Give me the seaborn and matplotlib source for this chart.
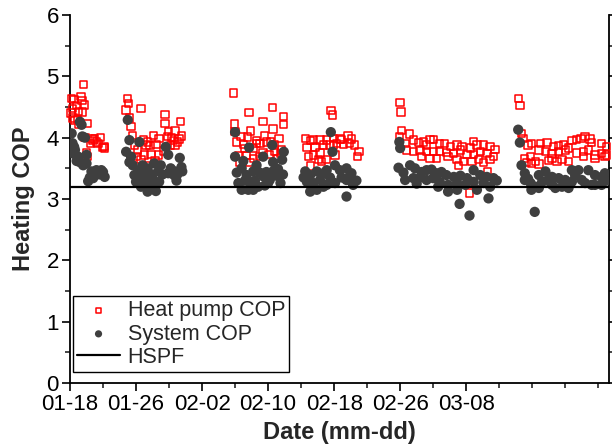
import numpy as np
import pandas as pd
import matplotlib
matplotlib.use("Agg")
import matplotlib.pyplot as plt
import seaborn as sns
from matplotlib.ticker import MultipleLocator

# ---- data (x = days since 01-18) ----
hp_day_1 = [0.1, 0.2, 0.3, 0.35, 0.5, 0.6, 0.8, 1.0, 1.1, 1.35, 1.45, 1.6, 1.75, 2.05, 1.8, 2.0, 2.1, 2.5, 2.65, 2.8, 3.0, 3.2, 3.4, 3.7, 3.9, 4.1, 4.2, 1.5, 0.9]
hp_cop_1 = [4.40, 4.64, 4.48, 4.32, 4.62, 4.29, 4.52, 4.43, 4.21, 4.67, 4.61, 4.87, 4.53, 4.23, 4.00, 3.75, 3.69, 3.91, 3.99, 3.95, 3.98, 3.93, 3.91, 4.00, 3.84, 3.86, 3.83, 4.42, 4.30]
hp_day_2 = [7.0, 7.1, 6.8, 7.2, 8.6, 7.4, 7.6, 11.5, 11.5, 13.4, 11.9, 12.7, 13.5, 8.9, 9.4, 10.1, 10.8, 11.8, 12.3, 13.0, 12.7, 12.2, 10.4, 9.7, 9.2, 7.8, 8.2, 8.0, 9.0, 9.8, 10.7, 11.4, 9.3, 10.3, 8.6, 12.5, 13.2]
hp_cop_2 = [4.64, 4.56, 4.45, 4.32, 4.48, 4.18, 4.04, 4.38, 4.23, 4.26, 4.10, 4.11, 4.03, 3.96, 3.93, 4.04, 3.99, 4.02, 4.00, 3.93, 3.88, 3.87, 3.89, 3.87, 3.88, 3.88, 3.80, 3.69, 3.72, 3.73, 3.72, 3.78, 3.54, 3.62, 3.64, 3.95, 3.98]
hp_day_3 = [19.8, 21.7, 24.5, 23.4, 25.9, 25.9, 24.6, 19.9, 20.0, 21.9, 20.7, 21.5, 23.6, 25.3, 20.2, 21.0, 22.6, 23.0, 23.8, 24.3, 24.8, 21.2, 22.2, 23.4, 24.1, 24.8, 25.5, 20.4, 21.4, 22.2, 23.0, 20.6, 21.8, 25.1, 22.6, 25.6]
hp_cop_3 = [4.73, 4.41, 4.49, 4.26, 4.35, 4.21, 4.14, 4.22, 4.10, 4.11, 4.02, 4.01, 4.03, 3.99, 3.93, 3.89, 3.90, 3.90, 3.93, 3.94, 3.88, 3.82, 3.82, 3.76, 3.73, 3.77, 3.74, 3.71, 3.71, 3.66, 3.69, 3.60, 3.59, 3.66, 3.95, 3.80]
hp_day_4 = [31.6, 31.8, 28.5, 29.1, 29.5, 30.3, 31.1, 31.9, 32.7, 33.7, 34.1, 34.5, 28.7, 29.7, 30.7, 31.5, 32.3, 33.1, 33.9, 28.9, 29.5, 30.3, 31.1, 32.1, 30.1, 30.5, 35.0, 34.8, 29.1, 31.9, 32.9]
hp_cop_4 = [4.44, 4.37, 3.99, 3.95, 3.96, 3.96, 3.96, 3.99, 3.98, 4.04, 3.98, 3.88, 3.84, 3.85, 3.88, 3.88, 3.91, 3.89, 3.91, 3.69, 3.72, 3.75, 3.64, 3.72, 3.64, 3.61, 3.77, 3.69, 3.54, 3.88, 3.97]
hp_day_5 = [40.0, 40.1, 40.2, 41.1, 39.9, 40.6, 41.6, 42.2, 42.8, 43.6, 44.0, 43.2, 44.8, 45.4, 46.1, 46.9, 47.5, 48.5, 48.9, 49.3, 50.1, 50.9, 51.5, 40.8, 41.6, 42.4, 43.2, 44.0, 44.8, 45.6, 46.5, 47.3, 48.1, 48.9, 49.7, 50.5, 51.3, 42.6, 43.6, 44.4, 45.8, 46.9, 47.7, 48.7, 49.5, 50.1, 50.9, 47.1, 48.4, 50.6]
hp_cop_5 = [4.57, 4.42, 4.12, 4.06, 4.02, 3.91, 3.96, 3.92, 3.93, 3.97, 3.97, 3.88, 3.91, 3.90, 3.86, 3.88, 3.86, 3.83, 3.94, 3.88, 3.88, 3.86, 3.81, 3.80, 3.77, 3.79, 3.77, 3.77, 3.77, 3.76, 3.74, 3.80, 3.73, 3.73, 3.77, 3.74, 3.69, 3.69, 3.66, 3.66, 3.69, 3.64, 3.61, 3.61, 3.64, 3.59, 3.64, 3.55, 3.10, 3.45]
hp_day_6 = [54.3, 54.5, 54.7, 54.9, 55.5, 55.9, 57.0, 57.8, 58.6, 59.2, 59.8, 60.4, 60.8, 61.4, 62.4, 63.2, 64.4, 65.0, 56.8, 57.6, 58.4, 59.2, 60.0, 61.4, 62.2, 62.8, 63.6, 64.4, 65.0, 55.1, 55.8, 56.4, 55.3, 55.9, 56.8, 58.4, 59.6, 60.4, 62.2, 63.6, 64.8, 58.0, 59.0, 61.9, 63.0]
hp_cop_6 = [4.64, 4.52, 4.07, 3.99, 3.88, 3.90, 3.91, 3.92, 3.86, 3.87, 3.88, 3.83, 3.95, 3.97, 4.02, 3.92, 3.91, 3.86, 3.80, 3.77, 3.74, 3.77, 3.80, 3.75, 3.77, 3.80, 3.72, 3.74, 3.72, 3.66, 3.69, 3.61, 3.59, 3.58, 3.57, 3.66, 3.64, 3.61, 3.69, 3.66, 3.69, 3.63, 3.61, 3.99, 3.98]

sys_day_1 = [0.2, 0.3, 0.5, 0.4, 0.6, 1.2, 1.4, 1.5, 1.8, 1.0, 1.2, 2.0, 2.0, 0.8, 1.6, 2.6, 3.2, 3.8, 3.0, 2.2, 2.8, 4.2, 3.6, 3.4, 4.0, 2.4]
sys_cop_1 = [4.07, 3.91, 3.85, 3.74, 3.80, 4.26, 4.21, 4.02, 4.00, 3.69, 3.60, 3.58, 3.72, 3.62, 3.55, 3.45, 3.47, 3.47, 3.39, 3.29, 3.34, 3.36, 3.40, 3.42, 3.44, 3.35]
sys_day_2 = [7.0, 7.2, 8.4, 6.8, 7.4, 7.6, 7.8, 8.0, 8.4, 9.0, 9.4, 9.6, 10.2, 10.3, 10.7, 11.6, 11.9, 11.9, 12.7, 13.3, 13.5, 12.6, 9.4, 10.4, 10.8, 9.0, 8.2, 11.2, 12.2, 13.0, 13.6, 7.2, 8.8, 10.0, 11.0, 12.9, 8.6, 9.8]
sys_cop_2 = [4.29, 3.96, 3.93, 3.77, 3.69, 3.55, 3.39, 3.28, 3.47, 3.42, 3.50, 3.29, 3.58, 3.28, 3.45, 3.85, 3.72, 3.42, 3.45, 3.67, 3.52, 3.39, 3.12, 3.13, 3.28, 3.28, 3.35, 3.40, 3.50, 3.40, 3.45, 3.60, 3.55, 3.40, 3.55, 3.30, 3.20, 3.22]
sys_day_3 = [20.0, 21.7, 24.5, 20.0, 23.4, 25.9, 25.7, 24.6, 20.2, 20.8, 21.4, 22.2, 23.0, 23.8, 24.6, 25.2, 20.4, 21.2, 21.8, 22.4, 24.2, 25.5, 20.8, 21.6, 22.2, 23.4, 24.0, 25.0, 22.8, 23.6, 25.8, 21.0, 22.6]
sys_cop_3 = [4.09, 3.84, 3.88, 3.69, 3.69, 3.77, 3.64, 3.60, 3.43, 3.50, 3.39, 3.45, 3.43, 3.44, 3.45, 3.49, 3.26, 3.30, 3.28, 3.30, 3.31, 3.26, 3.15, 3.15, 3.15, 3.37, 3.26, 3.38, 3.20, 3.22, 3.40, 3.62, 3.55]
sys_day_4 = [31.6, 31.8, 28.5, 29.1, 29.9, 30.7, 31.1, 32.1, 32.7, 33.5, 34.1, 34.7, 28.7, 29.5, 30.3, 31.1, 32.1, 33.5, 34.3, 29.1, 29.9, 33.5, 30.7, 32.9, 28.3, 33.9, 31.5]
sys_cop_4 = [4.09, 3.77, 3.45, 3.39, 3.45, 3.42, 3.47, 3.55, 3.47, 3.50, 3.42, 3.30, 3.28, 3.26, 3.31, 3.23, 3.26, 3.31, 3.23, 3.12, 3.15, 3.04, 3.20, 3.35, 3.35, 3.38, 3.35]
sys_day_5 = [39.9, 40.0, 39.8, 40.4, 40.6, 41.2, 41.8, 42.6, 43.2, 43.8, 44.4, 45.0, 45.6, 46.5, 47.3, 48.1, 48.9, 49.7, 50.5, 51.3, 41.6, 42.4, 43.2, 44.0, 44.8, 45.8, 46.9, 47.9, 48.9, 50.1, 50.9, 45.8, 46.9, 49.3, 50.7, 47.2, 48.4, 51.7, 44.6, 42.0]
sys_cop_5 = [3.93, 3.83, 3.51, 3.43, 3.31, 3.55, 3.50, 3.44, 3.47, 3.48, 3.42, 3.44, 3.39, 3.36, 3.38, 3.34, 3.47, 3.39, 3.36, 3.34, 3.34, 3.35, 3.31, 3.34, 3.28, 3.23, 3.26, 3.23, 3.28, 3.26, 3.20, 3.12, 3.15, 3.15, 3.01, 2.92, 2.73, 3.30, 3.20, 3.25]
sys_day_6 = [54.3, 54.5, 54.7, 55.1, 55.5, 55.8, 56.4, 56.8, 57.6, 58.4, 59.2, 60.0, 60.8, 61.6, 62.8, 63.6, 64.4, 64.8, 57.2, 58.4, 59.6, 60.8, 62.0, 63.2, 64.4, 55.1, 55.9, 56.8, 58.8, 60.4, 62.4, 63.6, 56.3, 65.0, 61.2, 57.8]
sys_cop_6 = [4.13, 3.92, 3.55, 3.42, 3.33, 3.26, 3.20, 3.39, 3.45, 3.36, 3.34, 3.31, 3.47, 3.47, 3.47, 3.39, 3.36, 3.42, 3.28, 3.23, 3.20, 3.28, 3.31, 3.23, 3.23, 3.31, 3.15, 3.18, 3.18, 3.18, 3.26, 3.23, 2.79, 3.30, 3.38, 3.30]

hspf = 3.2
tick_days = [0, 8, 16, 24, 32, 40, 48]
tick_labels = ["01-18", "01-26", "02-02", "02-10", "02-18", "02-26", "03-08"]

hp_df = pd.DataFrame({
    "day": hp_day_1 + hp_day_2 + hp_day_3 + hp_day_4 + hp_day_5 + hp_day_6,
    "cop": hp_cop_1 + hp_cop_2 + hp_cop_3 + hp_cop_4 + hp_cop_5 + hp_cop_6,
})
sys_df = pd.DataFrame({
    "day": sys_day_1 + sys_day_2 + sys_day_3 + sys_day_4 + sys_day_5 + sys_day_6,
    "cop": sys_cop_1 + sys_cop_2 + sys_cop_3 + sys_cop_4 + sys_cop_5 + sys_cop_6,
})

sns.set_style("white")
plt.rcParams["font.family"] = ["Liberation Sans", "DejaVu Sans"]

fig = plt.figure(figsize=(6.12, 4.46), dpi=100)
ax = fig.add_axes([70 / 612, 1 - 383 / 446, 539 / 612, 368 / 446])

sns.scatterplot(data=hp_df, x="day", y="cop", ax=ax, marker="s", s=28,
                facecolor="none", edgecolor="#ff0000", linewidth=1.1,
                label="Heat pump COP", zorder=3, clip_on=False)
sns.scatterplot(data=sys_df, x="day", y="cop", ax=ax, marker="o", s=55,
                color="#3f3f3f", edgecolor="none", label="System COP", zorder=4)
ax.axhline(hspf, color="black", lw=1.6, label="HSPF", zorder=5)

ax.set_xlim(0, 65.3)
ax.set_ylim(0, 6)
ax.set_xticks(tick_days)
ax.set_xticklabels(tick_labels)
ax.xaxis.set_minor_locator(MultipleLocator(4))
ax.yaxis.set_major_locator(MultipleLocator(1))
ax.yaxis.set_minor_locator(MultipleLocator(0.5))

for side in ["left", "bottom", "right"]:
    ax.spines[side].set_visible(True)
    ax.spines[side].set_color("black")
    ax.spines[side].set_linewidth(1.3)
ax.spines["top"].set_visible(False)

ax.tick_params(axis="both", which="major", direction="out", length=6, width=1.2,
               labelsize=16, colors="black", pad=2)
ax.tick_params(axis="both", which="minor", direction="out", length=3.5, width=1.2)
ax.tick_params(left=True, bottom=True, right=True, which="both")
ax.tick_params(labelright=False)

ax.set_xlabel("Date (mm-dd)", fontsize=17, fontweight="bold", labelpad=4)
ax.set_ylabel("Heating COP", fontsize=17, fontweight="bold", labelpad=8)

leg = ax.legend(loc="lower left", bbox_to_anchor=(0.005, 0.03), fontsize=15.5,
                frameon=True, fancybox=False, edgecolor="black", framealpha=1,
                borderpad=0.2, labelspacing=0.1, handlelength=2.0,
                handletextpad=0.35, markerscale=0.7, borderaxespad=0)
leg.get_frame().set_linewidth(1.0)

fig.savefig("out.png", dpi=100)
